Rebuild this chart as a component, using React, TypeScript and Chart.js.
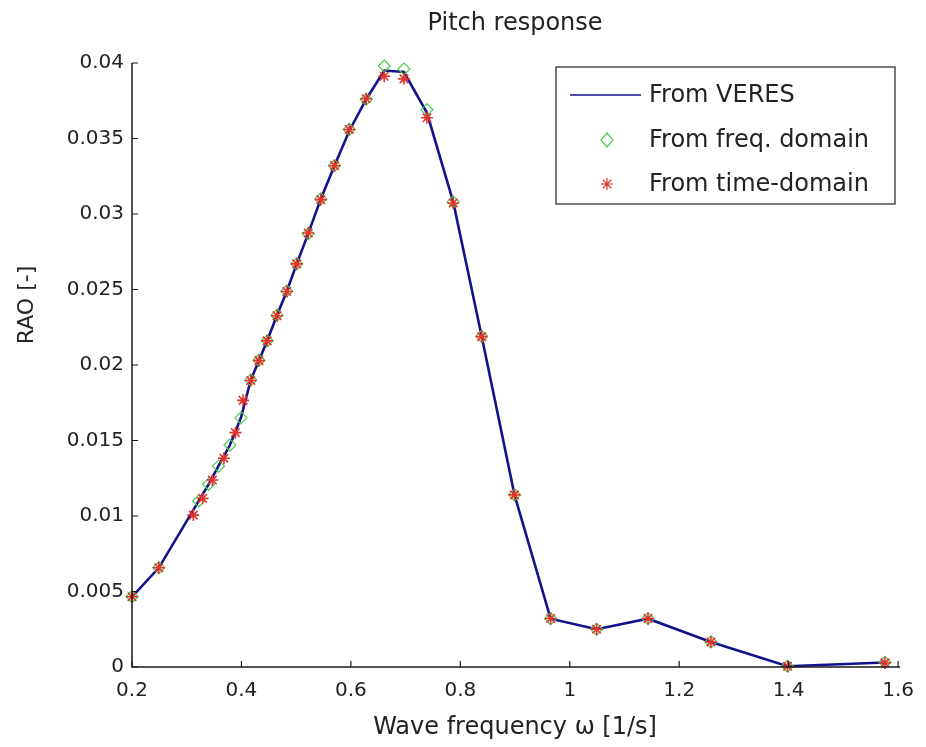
import React, { useEffect, useRef } from "react";
import { Chart, registerables } from "chart.js";

Chart.register(...registerables);

// ---- data ----
const veresX = [0.2, 0.249, 0.322, 0.34, 0.358, 0.379, 0.399, 0.417, 0.432, 0.447, 0.465, 0.483, 0.501, 0.522, 0.545, 0.57, 0.597, 0.628, 0.661, 0.697, 0.739, 0.787, 0.839, 0.899, 0.965, 1.049, 1.143, 1.258, 1.398, 1.576];
const veresY = [0.00465, 0.00657, 0.0110, 0.0121, 0.0133, 0.0147, 0.0165, 0.0190, 0.0203, 0.0216, 0.0233, 0.0249, 0.0267, 0.0287, 0.031, 0.0332, 0.0355, 0.0376, 0.0395, 0.0394, 0.0367, 0.0308, 0.0219, 0.0114, 0.0032, 0.0025, 0.0032, 0.00166, 0.00005, 0.0003];

const freqX = [0.2, 0.249, 0.322, 0.34, 0.358, 0.379, 0.399, 0.417, 0.432, 0.447, 0.465, 0.483, 0.501, 0.522, 0.545, 0.57, 0.597, 0.628, 0.661, 0.697, 0.739, 0.787, 0.839, 0.899, 0.965, 1.049, 1.143, 1.258, 1.398, 1.576];
const freqY = [0.00465, 0.00657, 0.0110, 0.0121, 0.0133, 0.0147, 0.0165, 0.0190, 0.0203, 0.0216, 0.0233, 0.0249, 0.0267, 0.0287, 0.031, 0.0332, 0.0356, 0.0376, 0.0398, 0.0396, 0.0369, 0.0308, 0.0219, 0.0114, 0.0032, 0.0025, 0.0032, 0.00166, 0.00005, 0.0003];

const timeX = [0.2, 0.249, 0.312, 0.329, 0.347, 0.368, 0.389, 0.403, 0.417, 0.432, 0.447, 0.465, 0.483, 0.501, 0.522, 0.545, 0.57, 0.597, 0.628, 0.661, 0.697, 0.739, 0.787, 0.839, 0.899, 0.965, 1.049, 1.143, 1.258, 1.398, 1.576];
const timeY = [0.00465, 0.00657, 0.01006, 0.01117, 0.01238, 0.01382, 0.01552, 0.01766, 0.01897, 0.02029, 0.0216, 0.02326, 0.02487, 0.0267, 0.02874, 0.03095, 0.0332, 0.0356, 0.03763, 0.03912, 0.03895, 0.03637, 0.03073, 0.02188, 0.0114, 0.00321, 0.0025, 0.00321, 0.00166, 0.00005, 0.00027];

const xTicks = [0.2, 0.4, 0.6, 0.8, 1, 1.2, 1.4, 1.6];
const yTicks = [0, 0.005, 0.01, 0.015, 0.02, 0.025, 0.03, 0.035, 0.04];

const titleText = "Pitch response";
const xLabel = "Wave frequency \u03c9 [1/s]";
const yLabel = "RAO [-]";
const legendLabels = ["From VERES", "From freq. domain", "From time-domain"];

const LINE_COLOR = "#12128c";
const DIAMOND_COLOR = "#4ccc4c";
const STAR_COLOR = "#e0342c";
const TEXT_COLOR = "#222222";
const FONT = '"DejaVu Sans", sans-serif';

const pts = (xs: number[], ys: number[]) => xs.map((x, i) => ({ x, y: ys[i] }));

const decorPlugin = {
  id: "decor",
  afterDraw(chart: any) {
    const ctx = chart.ctx as CanvasRenderingContext2D;
    const xs = chart.scales.x;
    const ys = chart.scales.y;
    const { left, right, top, bottom } = chart.chartArea;
    ctx.save();
    // axis lines
    ctx.strokeStyle = "#1a1a1a";
    ctx.lineWidth = 1.5;
    ctx.beginPath();
    ctx.moveTo(left, top);
    ctx.lineTo(left, bottom);
    ctx.lineTo(right + 2, bottom);
    ctx.stroke();
    // inward ticks
    ctx.lineWidth = 1.2;
    ctx.beginPath();
    xTicks.forEach((v) => {
      const p = xs.getPixelForValue(v);
      ctx.moveTo(p, bottom);
      ctx.lineTo(p, bottom - 6);
    });
    yTicks.forEach((v) => {
      const p = ys.getPixelForValue(v);
      ctx.moveTo(left, p);
      ctx.lineTo(left + 6, p);
    });
    ctx.stroke();

    // titles
    ctx.fillStyle = TEXT_COLOR;
    ctx.font = `24px ${FONT}`;
    ctx.textAlign = "center";
    ctx.textBaseline = "alphabetic";
    ctx.fillText(titleText, (left + right) / 2, 30);
    ctx.fillText(xLabel, (left + right) / 2, 734);
    ctx.save();
    ctx.translate(33, 305);
    ctx.rotate(-Math.PI / 2);
    ctx.font = `22px ${FONT}`;
    ctx.fillText(yLabel, 0, 0);
    ctx.restore();

    // legend
    const lx = 556, ly = 67, lw = 339, lh = 137;
    ctx.fillStyle = "#ffffff";
    ctx.fillRect(lx, ly, lw, lh);
    ctx.strokeStyle = "#222222";
    ctx.lineWidth = 1.2;
    ctx.strokeRect(lx, ly, lw, lh);
    const rows = [95, 140, 184];
    // line sample
    ctx.strokeStyle = LINE_COLOR;
    ctx.lineWidth = 1.3;
    ctx.beginPath();
    ctx.moveTo(570, rows[0]);
    ctx.lineTo(641, rows[0]);
    ctx.stroke();
    // diamond sample
    ctx.strokeStyle = DIAMOND_COLOR;
    ctx.lineWidth = 1.2;
    ctx.beginPath();
    ctx.moveTo(607, rows[1] - 7);
    ctx.lineTo(613, rows[1]);
    ctx.lineTo(607, rows[1] + 7);
    ctx.lineTo(601, rows[1]);
    ctx.closePath();
    ctx.stroke();
    // star sample
    ctx.strokeStyle = STAR_COLOR;
    ctx.beginPath();
    const r = 6, d = r * Math.SQRT1_2;
    ctx.moveTo(607 - r, rows[2]); ctx.lineTo(607 + r, rows[2]);
    ctx.moveTo(607, rows[2] - r); ctx.lineTo(607, rows[2] + r);
    ctx.moveTo(607 - d, rows[2] - d); ctx.lineTo(607 + d, rows[2] + d);
    ctx.moveTo(607 - d, rows[2] + d); ctx.lineTo(607 + d, rows[2] - d);
    ctx.stroke();
    ctx.fillStyle = TEXT_COLOR;
    ctx.font = `24px ${FONT}`;
    ctx.textAlign = "left";
    ctx.textBaseline = "middle";
    legendLabels.forEach((t, i) => ctx.fillText(t, 649, rows[i] + 1));
    ctx.restore();
  },
};

export default function App() {
  const ref = useRef<HTMLCanvasElement | null>(null);
  useEffect(() => {
    document.body.style.margin = "0";
    const canvas = ref.current!;
    const chart = new Chart(canvas, {
      type: "line",
      data: {
        datasets: [
          {
            label: legendLabels[0],
            data: pts(veresX, veresY),
            borderColor: LINE_COLOR,
            borderWidth: 2.6,
            pointRadius: 0,
            tension: 0,
            fill: false,
            clip: false as any,
            order: 3,
          },
          {
            label: legendLabels[1],
            data: pts(freqX, freqY),
            showLine: false,
            pointStyle: "rectRot",
            pointRadius: 6,
            pointBorderWidth: 1.2,
            pointBorderColor: DIAMOND_COLOR,
            pointBackgroundColor: "rgba(0,0,0,0)",
            borderColor: DIAMOND_COLOR,
            clip: false as any,
            order: 2,
          },
          {
            label: legendLabels[2],
            data: pts(timeX, timeY),
            showLine: false,
            pointStyle: "star",
            pointRadius: 6,
            pointBorderWidth: 1.6,
            pointBorderColor: STAR_COLOR,
            pointBackgroundColor: STAR_COLOR,
            borderColor: STAR_COLOR,
            clip: false as any,
            order: 1,
          },
        ],
      },
      options: {
        responsive: false,
        animation: false,
        devicePixelRatio: 1,
        layout: { padding: { top: 63, right: 20, left: 0, bottom: 0 } },
        plugins: {
          legend: { display: false },
          tooltip: { enabled: false },
          title: { display: false },
        },
        scales: {
          x: {
            type: "linear",
            min: 0.2,
            max: 1.6,
            grid: { display: false, drawTicks: false },
            border: { display: false },
            afterBuildTicks: (s: any) => {
              s.ticks = xTicks.map((v) => ({ value: v }));
            },
            afterFit: (s: any) => {
              s.height = 80;
            },
            ticks: {
              autoSkip: false,
              maxRotation: 0,
              padding: 12,
              color: TEXT_COLOR,
              font: { family: FONT, size: 20 },
              callback: (v: any) => String(v),
            },
          },
          y: {
            type: "linear",
            min: 0,
            max: 0.04,
            grid: { display: false, drawTicks: false },
            border: { display: false },
            afterBuildTicks: (s: any) => {
              s.ticks = yTicks.map((v) => ({ value: v }));
            },
            afterFit: (s: any) => {
              s.width = 132;
            },
            ticks: {
              autoSkip: false,
              padding: 8,
              color: TEXT_COLOR,
              font: { family: FONT, size: 20 },
              callback: (v: any) => String(v),
            },
          },
        },
      },
      plugins: [decorPlugin],
    });
    return () => chart.destroy();
  }, []);
  return (
    <div style={{ width: 926, height: 747, background: "#fff" }}>
      <canvas ref={ref} width={926} height={747} style={{ display: "block" }} />
    </div>
  );
}
